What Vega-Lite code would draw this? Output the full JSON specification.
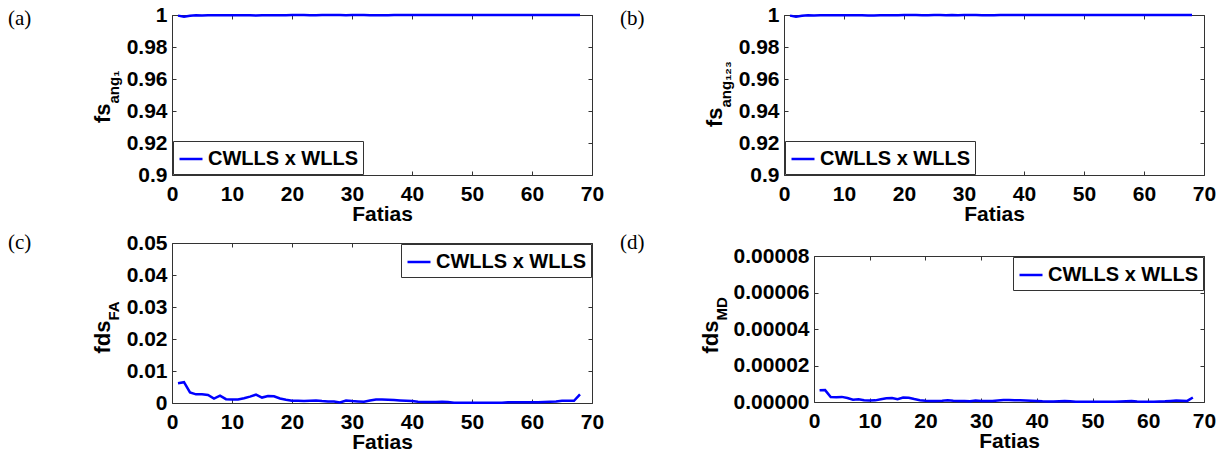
{
  "$schema": "https://vega.github.io/schema/vega-lite/v6.json",
  "background": "white",
  "padding": {"left": 8, "top": 4, "right": 0, "bottom": 0},
  "autosize": {"type": "pad"},
  "config": {
    "font": "Liberation Sans",
    "view": {"stroke": null},
    "axis": {
      "labelFont": "Liberation Sans",
      "labelFontSize": 21,
      "labelFontWeight": "bold",
      "labelColor": "#000",
      "titleFont": "Liberation Sans",
      "titleFontSize": 21,
      "titleFontWeight": "bold",
      "titleColor": "#000",
      "domainColor": "#333",
      "domainWidth": 1,
      "tickColor": "#333",
      "tickSize": -4,
      "grid": false,
      "labelFlush": false,
      "labelOverlap": false
    },
    "legend": {
      "title": null,
      "labelFont": "Liberation Sans",
      "labelFontSize": 20,
      "labelFontWeight": "bold",
      "labelColor": "#000",
      "symbolType": "stroke",
      "symbolSize": 529,
      "symbolStrokeWidth": 3,
      "labelOffset": 4,
      "padding": 5,
      "strokeColor": "#333",
      "fillColor": "white",
      "offset": 1
    },
    "title": {
      "font": "Liberation Serif",
      "fontSize": 21,
      "fontWeight": "normal",
      "color": "#000",
      "anchor": "start",
      "frame": "group",
      "baseline": "top"
    },
    "line": {"strokeWidth": 2.5, "color": "#0000ff"}
  },
  "datasets": {
    "fsang1": [
      {"fatia": 1, "valor": 0.9996, "serie": "CWLLS x WLLS"}, {"fatia": 2, "valor": 0.9989, "serie": "CWLLS x WLLS"}, {"fatia": 3, "valor": 0.9995, "serie": "CWLLS x WLLS"}, {"fatia": 4, "valor": 0.9998, "serie": "CWLLS x WLLS"},
      {"fatia": 5, "valor": 0.9997, "serie": "CWLLS x WLLS"}, {"fatia": 6, "valor": 0.9998, "serie": "CWLLS x WLLS"}, {"fatia": 7, "valor": 0.9999, "serie": "CWLLS x WLLS"}, {"fatia": 8, "valor": 0.9998, "serie": "CWLLS x WLLS"},
      {"fatia": 9, "valor": 0.9999, "serie": "CWLLS x WLLS"}, {"fatia": 10, "valor": 0.9999, "serie": "CWLLS x WLLS"}, {"fatia": 11, "valor": 0.9999, "serie": "CWLLS x WLLS"}, {"fatia": 12, "valor": 0.9999, "serie": "CWLLS x WLLS"},
      {"fatia": 13, "valor": 0.9998, "serie": "CWLLS x WLLS"}, {"fatia": 14, "valor": 0.9997, "serie": "CWLLS x WLLS"}, {"fatia": 15, "valor": 0.9998, "serie": "CWLLS x WLLS"}, {"fatia": 16, "valor": 0.9998, "serie": "CWLLS x WLLS"},
      {"fatia": 17, "valor": 0.9998, "serie": "CWLLS x WLLS"}, {"fatia": 18, "valor": 0.9999, "serie": "CWLLS x WLLS"}, {"fatia": 19, "valor": 0.9999, "serie": "CWLLS x WLLS"}, {"fatia": 20, "valor": 1.0, "serie": "CWLLS x WLLS"},
      {"fatia": 21, "valor": 1.0, "serie": "CWLLS x WLLS"}, {"fatia": 22, "valor": 1.0, "serie": "CWLLS x WLLS"}, {"fatia": 23, "valor": 0.9999, "serie": "CWLLS x WLLS"}, {"fatia": 24, "valor": 0.9999, "serie": "CWLLS x WLLS"},
      {"fatia": 25, "valor": 1.0, "serie": "CWLLS x WLLS"}, {"fatia": 26, "valor": 1.0, "serie": "CWLLS x WLLS"}, {"fatia": 27, "valor": 1.0, "serie": "CWLLS x WLLS"}, {"fatia": 28, "valor": 1.0, "serie": "CWLLS x WLLS"},
      {"fatia": 29, "valor": 0.9999, "serie": "CWLLS x WLLS"}, {"fatia": 30, "valor": 1.0, "serie": "CWLLS x WLLS"}, {"fatia": 31, "valor": 1.0, "serie": "CWLLS x WLLS"}, {"fatia": 32, "valor": 1.0, "serie": "CWLLS x WLLS"},
      {"fatia": 33, "valor": 0.9999, "serie": "CWLLS x WLLS"}, {"fatia": 34, "valor": 0.9999, "serie": "CWLLS x WLLS"}, {"fatia": 35, "valor": 0.9999, "serie": "CWLLS x WLLS"}, {"fatia": 36, "valor": 0.9999, "serie": "CWLLS x WLLS"},
      {"fatia": 37, "valor": 1.0, "serie": "CWLLS x WLLS"}, {"fatia": 38, "valor": 1.0, "serie": "CWLLS x WLLS"}, {"fatia": 39, "valor": 1.0, "serie": "CWLLS x WLLS"}, {"fatia": 40, "valor": 1.0, "serie": "CWLLS x WLLS"},
      {"fatia": 41, "valor": 1.0, "serie": "CWLLS x WLLS"}, {"fatia": 42, "valor": 1.0, "serie": "CWLLS x WLLS"}, {"fatia": 43, "valor": 1.0, "serie": "CWLLS x WLLS"}, {"fatia": 44, "valor": 1.0, "serie": "CWLLS x WLLS"},
      {"fatia": 45, "valor": 1.0, "serie": "CWLLS x WLLS"}, {"fatia": 46, "valor": 1.0, "serie": "CWLLS x WLLS"}, {"fatia": 47, "valor": 1.0, "serie": "CWLLS x WLLS"}, {"fatia": 48, "valor": 1.0, "serie": "CWLLS x WLLS"},
      {"fatia": 49, "valor": 1.0, "serie": "CWLLS x WLLS"}, {"fatia": 50, "valor": 1.0, "serie": "CWLLS x WLLS"}, {"fatia": 51, "valor": 1.0, "serie": "CWLLS x WLLS"}, {"fatia": 52, "valor": 1.0, "serie": "CWLLS x WLLS"},
      {"fatia": 53, "valor": 1.0, "serie": "CWLLS x WLLS"}, {"fatia": 54, "valor": 1.0, "serie": "CWLLS x WLLS"}, {"fatia": 55, "valor": 1.0, "serie": "CWLLS x WLLS"}, {"fatia": 56, "valor": 1.0, "serie": "CWLLS x WLLS"},
      {"fatia": 57, "valor": 1.0, "serie": "CWLLS x WLLS"}, {"fatia": 58, "valor": 1.0, "serie": "CWLLS x WLLS"}, {"fatia": 59, "valor": 1.0, "serie": "CWLLS x WLLS"}, {"fatia": 60, "valor": 1.0, "serie": "CWLLS x WLLS"},
      {"fatia": 61, "valor": 1.0, "serie": "CWLLS x WLLS"}, {"fatia": 62, "valor": 1.0, "serie": "CWLLS x WLLS"}, {"fatia": 63, "valor": 1.0, "serie": "CWLLS x WLLS"}, {"fatia": 64, "valor": 1.0, "serie": "CWLLS x WLLS"},
      {"fatia": 65, "valor": 1.0, "serie": "CWLLS x WLLS"}, {"fatia": 66, "valor": 1.0, "serie": "CWLLS x WLLS"}, {"fatia": 67, "valor": 1.0, "serie": "CWLLS x WLLS"}, {"fatia": 68, "valor": 1.0, "serie": "CWLLS x WLLS"}
    ],
    "fsang123": [
      {"fatia": 1, "valor": 0.9996, "serie": "CWLLS x WLLS"}, {"fatia": 2, "valor": 0.9989, "serie": "CWLLS x WLLS"}, {"fatia": 3, "valor": 0.9995, "serie": "CWLLS x WLLS"}, {"fatia": 4, "valor": 0.9998, "serie": "CWLLS x WLLS"},
      {"fatia": 5, "valor": 0.9997, "serie": "CWLLS x WLLS"}, {"fatia": 6, "valor": 0.9998, "serie": "CWLLS x WLLS"}, {"fatia": 7, "valor": 0.9999, "serie": "CWLLS x WLLS"}, {"fatia": 8, "valor": 0.9998, "serie": "CWLLS x WLLS"},
      {"fatia": 9, "valor": 0.9999, "serie": "CWLLS x WLLS"}, {"fatia": 10, "valor": 0.9999, "serie": "CWLLS x WLLS"}, {"fatia": 11, "valor": 0.9999, "serie": "CWLLS x WLLS"}, {"fatia": 12, "valor": 0.9999, "serie": "CWLLS x WLLS"},
      {"fatia": 13, "valor": 0.9998, "serie": "CWLLS x WLLS"}, {"fatia": 14, "valor": 0.9997, "serie": "CWLLS x WLLS"}, {"fatia": 15, "valor": 0.9997, "serie": "CWLLS x WLLS"}, {"fatia": 16, "valor": 0.9998, "serie": "CWLLS x WLLS"},
      {"fatia": 17, "valor": 0.9998, "serie": "CWLLS x WLLS"}, {"fatia": 18, "valor": 0.9999, "serie": "CWLLS x WLLS"}, {"fatia": 19, "valor": 0.9999, "serie": "CWLLS x WLLS"}, {"fatia": 20, "valor": 1.0, "serie": "CWLLS x WLLS"},
      {"fatia": 21, "valor": 1.0, "serie": "CWLLS x WLLS"}, {"fatia": 22, "valor": 1.0, "serie": "CWLLS x WLLS"}, {"fatia": 23, "valor": 0.9999, "serie": "CWLLS x WLLS"}, {"fatia": 24, "valor": 0.9999, "serie": "CWLLS x WLLS"},
      {"fatia": 25, "valor": 1.0, "serie": "CWLLS x WLLS"}, {"fatia": 26, "valor": 1.0, "serie": "CWLLS x WLLS"}, {"fatia": 27, "valor": 0.9999, "serie": "CWLLS x WLLS"}, {"fatia": 28, "valor": 1.0, "serie": "CWLLS x WLLS"},
      {"fatia": 29, "valor": 0.9999, "serie": "CWLLS x WLLS"}, {"fatia": 30, "valor": 1.0, "serie": "CWLLS x WLLS"}, {"fatia": 31, "valor": 1.0, "serie": "CWLLS x WLLS"}, {"fatia": 32, "valor": 1.0, "serie": "CWLLS x WLLS"},
      {"fatia": 33, "valor": 0.9999, "serie": "CWLLS x WLLS"}, {"fatia": 34, "valor": 0.9999, "serie": "CWLLS x WLLS"}, {"fatia": 35, "valor": 0.9999, "serie": "CWLLS x WLLS"}, {"fatia": 36, "valor": 1.0, "serie": "CWLLS x WLLS"},
      {"fatia": 37, "valor": 1.0, "serie": "CWLLS x WLLS"}, {"fatia": 38, "valor": 1.0, "serie": "CWLLS x WLLS"}, {"fatia": 39, "valor": 1.0, "serie": "CWLLS x WLLS"}, {"fatia": 40, "valor": 1.0, "serie": "CWLLS x WLLS"},
      {"fatia": 41, "valor": 1.0, "serie": "CWLLS x WLLS"}, {"fatia": 42, "valor": 1.0, "serie": "CWLLS x WLLS"}, {"fatia": 43, "valor": 1.0, "serie": "CWLLS x WLLS"}, {"fatia": 44, "valor": 1.0, "serie": "CWLLS x WLLS"},
      {"fatia": 45, "valor": 1.0, "serie": "CWLLS x WLLS"}, {"fatia": 46, "valor": 1.0, "serie": "CWLLS x WLLS"}, {"fatia": 47, "valor": 1.0, "serie": "CWLLS x WLLS"}, {"fatia": 48, "valor": 1.0, "serie": "CWLLS x WLLS"},
      {"fatia": 49, "valor": 1.0, "serie": "CWLLS x WLLS"}, {"fatia": 50, "valor": 1.0, "serie": "CWLLS x WLLS"}, {"fatia": 51, "valor": 1.0, "serie": "CWLLS x WLLS"}, {"fatia": 52, "valor": 1.0, "serie": "CWLLS x WLLS"},
      {"fatia": 53, "valor": 1.0, "serie": "CWLLS x WLLS"}, {"fatia": 54, "valor": 1.0, "serie": "CWLLS x WLLS"}, {"fatia": 55, "valor": 1.0, "serie": "CWLLS x WLLS"}, {"fatia": 56, "valor": 1.0, "serie": "CWLLS x WLLS"},
      {"fatia": 57, "valor": 1.0, "serie": "CWLLS x WLLS"}, {"fatia": 58, "valor": 1.0, "serie": "CWLLS x WLLS"}, {"fatia": 59, "valor": 1.0, "serie": "CWLLS x WLLS"}, {"fatia": 60, "valor": 1.0, "serie": "CWLLS x WLLS"},
      {"fatia": 61, "valor": 1.0, "serie": "CWLLS x WLLS"}, {"fatia": 62, "valor": 1.0, "serie": "CWLLS x WLLS"}, {"fatia": 63, "valor": 1.0, "serie": "CWLLS x WLLS"}, {"fatia": 64, "valor": 1.0, "serie": "CWLLS x WLLS"},
      {"fatia": 65, "valor": 1.0, "serie": "CWLLS x WLLS"}, {"fatia": 66, "valor": 1.0, "serie": "CWLLS x WLLS"}, {"fatia": 67, "valor": 1.0, "serie": "CWLLS x WLLS"}, {"fatia": 68, "valor": 1.0, "serie": "CWLLS x WLLS"}
    ],
    "fdsFA": [
      {"fatia": 1, "valor": 0.0062, "serie": "CWLLS x WLLS"}, {"fatia": 2, "valor": 0.0065, "serie": "CWLLS x WLLS"}, {"fatia": 3, "valor": 0.0033, "serie": "CWLLS x WLLS"}, {"fatia": 4, "valor": 0.0027, "serie": "CWLLS x WLLS"},
      {"fatia": 5, "valor": 0.0027, "serie": "CWLLS x WLLS"}, {"fatia": 6, "valor": 0.0025, "serie": "CWLLS x WLLS"}, {"fatia": 7, "valor": 0.0014, "serie": "CWLLS x WLLS"}, {"fatia": 8, "valor": 0.0023, "serie": "CWLLS x WLLS"},
      {"fatia": 9, "valor": 0.0012, "serie": "CWLLS x WLLS"}, {"fatia": 10, "valor": 0.0011, "serie": "CWLLS x WLLS"}, {"fatia": 11, "valor": 0.0011, "serie": "CWLLS x WLLS"}, {"fatia": 12, "valor": 0.0015, "serie": "CWLLS x WLLS"},
      {"fatia": 13, "valor": 0.002, "serie": "CWLLS x WLLS"}, {"fatia": 14, "valor": 0.0026, "serie": "CWLLS x WLLS"}, {"fatia": 15, "valor": 0.0017, "serie": "CWLLS x WLLS"}, {"fatia": 16, "valor": 0.0022, "serie": "CWLLS x WLLS"},
      {"fatia": 17, "valor": 0.0021, "serie": "CWLLS x WLLS"}, {"fatia": 18, "valor": 0.0014, "serie": "CWLLS x WLLS"}, {"fatia": 19, "valor": 0.001, "serie": "CWLLS x WLLS"}, {"fatia": 20, "valor": 0.0007, "serie": "CWLLS x WLLS"},
      {"fatia": 21, "valor": 0.0007, "serie": "CWLLS x WLLS"}, {"fatia": 22, "valor": 0.0006, "serie": "CWLLS x WLLS"}, {"fatia": 23, "valor": 0.0007, "serie": "CWLLS x WLLS"}, {"fatia": 24, "valor": 0.0008, "serie": "CWLLS x WLLS"},
      {"fatia": 25, "valor": 0.0006, "serie": "CWLLS x WLLS"}, {"fatia": 26, "valor": 0.0005, "serie": "CWLLS x WLLS"}, {"fatia": 27, "valor": 0.0005, "serie": "CWLLS x WLLS"}, {"fatia": 28, "valor": 0.0002, "serie": "CWLLS x WLLS"},
      {"fatia": 29, "valor": 0.0008, "serie": "CWLLS x WLLS"}, {"fatia": 30, "valor": 0.0006, "serie": "CWLLS x WLLS"}, {"fatia": 31, "valor": 0.0005, "serie": "CWLLS x WLLS"}, {"fatia": 32, "valor": 0.0004, "serie": "CWLLS x WLLS"},
      {"fatia": 33, "valor": 0.0008, "serie": "CWLLS x WLLS"}, {"fatia": 34, "valor": 0.0011, "serie": "CWLLS x WLLS"}, {"fatia": 35, "valor": 0.0011, "serie": "CWLLS x WLLS"}, {"fatia": 36, "valor": 0.001, "serie": "CWLLS x WLLS"},
      {"fatia": 37, "valor": 0.0009, "serie": "CWLLS x WLLS"}, {"fatia": 38, "valor": 0.0008, "serie": "CWLLS x WLLS"}, {"fatia": 39, "valor": 0.0007, "serie": "CWLLS x WLLS"}, {"fatia": 40, "valor": 0.0006, "serie": "CWLLS x WLLS"},
      {"fatia": 41, "valor": 0.0004, "serie": "CWLLS x WLLS"}, {"fatia": 42, "valor": 0.0003, "serie": "CWLLS x WLLS"}, {"fatia": 43, "valor": 0.0003, "serie": "CWLLS x WLLS"}, {"fatia": 44, "valor": 0.0003, "serie": "CWLLS x WLLS"},
      {"fatia": 45, "valor": 0.0004, "serie": "CWLLS x WLLS"}, {"fatia": 46, "valor": 0.0003, "serie": "CWLLS x WLLS"}, {"fatia": 47, "valor": 0.0001, "serie": "CWLLS x WLLS"}, {"fatia": 48, "valor": 0.0001, "serie": "CWLLS x WLLS"},
      {"fatia": 49, "valor": 0.0001, "serie": "CWLLS x WLLS"}, {"fatia": 50, "valor": 0.0001, "serie": "CWLLS x WLLS"}, {"fatia": 51, "valor": 0.0001, "serie": "CWLLS x WLLS"}, {"fatia": 52, "valor": 0.0001, "serie": "CWLLS x WLLS"},
      {"fatia": 53, "valor": 0.0001, "serie": "CWLLS x WLLS"}, {"fatia": 54, "valor": 0.0001, "serie": "CWLLS x WLLS"}, {"fatia": 55, "valor": 0.0001, "serie": "CWLLS x WLLS"}, {"fatia": 56, "valor": 0.0002, "serie": "CWLLS x WLLS"},
      {"fatia": 57, "valor": 0.0002, "serie": "CWLLS x WLLS"}, {"fatia": 58, "valor": 0.0002, "serie": "CWLLS x WLLS"}, {"fatia": 59, "valor": 0.0002, "serie": "CWLLS x WLLS"}, {"fatia": 60, "valor": 0.0002, "serie": "CWLLS x WLLS"},
      {"fatia": 61, "valor": 0.0002, "serie": "CWLLS x WLLS"}, {"fatia": 62, "valor": 0.0003, "serie": "CWLLS x WLLS"}, {"fatia": 63, "valor": 0.0004, "serie": "CWLLS x WLLS"}, {"fatia": 64, "valor": 0.0005, "serie": "CWLLS x WLLS"},
      {"fatia": 65, "valor": 0.0007, "serie": "CWLLS x WLLS"}, {"fatia": 66, "valor": 0.0007, "serie": "CWLLS x WLLS"}, {"fatia": 67, "valor": 0.0007, "serie": "CWLLS x WLLS"}, {"fatia": 68, "valor": 0.0027, "serie": "CWLLS x WLLS"}
    ],
    "fdsMD": [
      {"fatia": 1, "valor": 0.0000064, "serie": "CWLLS x WLLS"}, {"fatia": 2, "valor": 0.0000065, "serie": "CWLLS x WLLS"}, {"fatia": 3, "valor": 0.0000027, "serie": "CWLLS x WLLS"}, {"fatia": 4, "valor": 0.0000026, "serie": "CWLLS x WLLS"},
      {"fatia": 5, "valor": 0.0000028, "serie": "CWLLS x WLLS"}, {"fatia": 6, "valor": 0.0000022, "serie": "CWLLS x WLLS"}, {"fatia": 7, "valor": 0.0000013, "serie": "CWLLS x WLLS"}, {"fatia": 8, "valor": 0.0000015, "serie": "CWLLS x WLLS"},
      {"fatia": 9, "valor": 0.000001, "serie": "CWLLS x WLLS"}, {"fatia": 10, "valor": 0.0000008, "serie": "CWLLS x WLLS"}, {"fatia": 11, "valor": 0.0000009, "serie": "CWLLS x WLLS"}, {"fatia": 12, "valor": 0.0000015, "serie": "CWLLS x WLLS"},
      {"fatia": 13, "valor": 0.000002, "serie": "CWLLS x WLLS"}, {"fatia": 14, "valor": 0.0000022, "serie": "CWLLS x WLLS"}, {"fatia": 15, "valor": 0.0000015, "serie": "CWLLS x WLLS"}, {"fatia": 16, "valor": 0.0000024, "serie": "CWLLS x WLLS"},
      {"fatia": 17, "valor": 0.0000023, "serie": "CWLLS x WLLS"}, {"fatia": 18, "valor": 0.0000016, "serie": "CWLLS x WLLS"}, {"fatia": 19, "valor": 0.000001, "serie": "CWLLS x WLLS"}, {"fatia": 20, "valor": 0.0000007, "serie": "CWLLS x WLLS"},
      {"fatia": 21, "valor": 0.0000006, "serie": "CWLLS x WLLS"}, {"fatia": 22, "valor": 0.0000006, "serie": "CWLLS x WLLS"}, {"fatia": 23, "valor": 0.0000007, "serie": "CWLLS x WLLS"}, {"fatia": 24, "valor": 0.0000009, "serie": "CWLLS x WLLS"},
      {"fatia": 25, "valor": 0.0000007, "serie": "CWLLS x WLLS"}, {"fatia": 26, "valor": 0.0000006, "serie": "CWLLS x WLLS"}, {"fatia": 27, "valor": 0.0000006, "serie": "CWLLS x WLLS"}, {"fatia": 28, "valor": 0.0000004, "serie": "CWLLS x WLLS"},
      {"fatia": 29, "valor": 0.0000008, "serie": "CWLLS x WLLS"}, {"fatia": 30, "valor": 0.0000006, "serie": "CWLLS x WLLS"}, {"fatia": 31, "valor": 0.0000006, "serie": "CWLLS x WLLS"}, {"fatia": 32, "valor": 0.0000005, "serie": "CWLLS x WLLS"},
      {"fatia": 33, "valor": 0.0000008, "serie": "CWLLS x WLLS"}, {"fatia": 34, "valor": 0.0000011, "serie": "CWLLS x WLLS"}, {"fatia": 35, "valor": 0.0000011, "serie": "CWLLS x WLLS"}, {"fatia": 36, "valor": 0.000001, "serie": "CWLLS x WLLS"},
      {"fatia": 37, "valor": 0.0000009, "serie": "CWLLS x WLLS"}, {"fatia": 38, "valor": 0.0000008, "serie": "CWLLS x WLLS"}, {"fatia": 39, "valor": 0.0000007, "serie": "CWLLS x WLLS"}, {"fatia": 40, "valor": 0.0000006, "serie": "CWLLS x WLLS"},
      {"fatia": 41, "valor": 0.0000004, "serie": "CWLLS x WLLS"}, {"fatia": 42, "valor": 0.0000003, "serie": "CWLLS x WLLS"}, {"fatia": 43, "valor": 0.0000003, "serie": "CWLLS x WLLS"}, {"fatia": 44, "valor": 0.0000004, "serie": "CWLLS x WLLS"},
      {"fatia": 45, "valor": 0.0000005, "serie": "CWLLS x WLLS"}, {"fatia": 46, "valor": 0.0000004, "serie": "CWLLS x WLLS"}, {"fatia": 47, "valor": 0.0000002, "serie": "CWLLS x WLLS"}, {"fatia": 48, "valor": 0.0000001, "serie": "CWLLS x WLLS"},
      {"fatia": 49, "valor": 0.0000001, "serie": "CWLLS x WLLS"}, {"fatia": 50, "valor": 0.0000001, "serie": "CWLLS x WLLS"}, {"fatia": 51, "valor": 0.0000001, "serie": "CWLLS x WLLS"}, {"fatia": 52, "valor": 0.0000001, "serie": "CWLLS x WLLS"},
      {"fatia": 53, "valor": 0.0000001, "serie": "CWLLS x WLLS"}, {"fatia": 54, "valor": 0.0000002, "serie": "CWLLS x WLLS"}, {"fatia": 55, "valor": 0.0000003, "serie": "CWLLS x WLLS"}, {"fatia": 56, "valor": 0.0000004, "serie": "CWLLS x WLLS"},
      {"fatia": 57, "valor": 0.0000005, "serie": "CWLLS x WLLS"}, {"fatia": 58, "valor": 0.0000003, "serie": "CWLLS x WLLS"}, {"fatia": 59, "valor": 0.0000002, "serie": "CWLLS x WLLS"}, {"fatia": 60, "valor": 0.0000002, "serie": "CWLLS x WLLS"},
      {"fatia": 61, "valor": 0.0000002, "serie": "CWLLS x WLLS"}, {"fatia": 62, "valor": 0.0000003, "serie": "CWLLS x WLLS"}, {"fatia": 63, "valor": 0.0000004, "serie": "CWLLS x WLLS"}, {"fatia": 64, "valor": 0.0000006, "serie": "CWLLS x WLLS"},
      {"fatia": 65, "valor": 0.0000008, "serie": "CWLLS x WLLS"}, {"fatia": 66, "valor": 0.0000007, "serie": "CWLLS x WLLS"}, {"fatia": 67, "valor": 0.0000006, "serie": "CWLLS x WLLS"}, {"fatia": 68, "valor": 0.0000025, "serie": "CWLLS x WLLS"}
    ]
  },
  "columns": 2,
  "align": "none",
  "bounds": "full",
  "spacing": {"row": 8, "column": 16},
  "resolve": {"scale": {"color": "independent"}, "legend": {"color": "independent"}},
  "concat": [
    {
      "title": {"text": "(a)", "dx": -164, "offset": -25},
      "width": 420,
      "height": 160,
      "data": {"name": "fsang1"},
      "resolve": {"axis": {"x": "independent", "y": "independent"}},
      "layer": [
        {
          "mark": {"type": "line", "strokeWidth": 2.5},
          "encoding": {
            "x": {"field": "fatia", "type": "quantitative", "scale": {"domain": [0, 70]},
                  "axis": {"orient": "bottom", "values": [0, 10, 20, 30, 40, 50, 60, 70], "title": "Fatias", "labelPadding": 12, "titlePadding": -1}},
            "y": {"field": "valor", "type": "quantitative", "scale": {"domain": [0.9, 1], "zero": false},
                  "axis": {"orient": "left", "values": [0.9, 0.92, 0.94, 0.96, 0.98, 1], "labelExpr": "format(datum.value, '~g')", "labelPadding": 9,
                           "title": "fs", "titleAngle": 270, "titleAlign": "right", "titleBaseline": "bottom", "titleX": -58, "titleY": 88, "titleFontSize": 22}},
            "color": {"field": "serie", "type": "nominal", "scale": {"range": ["#0000ff"]},
                      "legend": {"orient": "bottom-left"}}
          }
        },
        {
          "mark": {"type": "line", "strokeOpacity": 0},
          "encoding": {
            "x": {"field": "fatia", "type": "quantitative",
                  "axis": {"orient": "top", "values": [0, 10, 20, 30, 40, 50, 60, 70], "labels": false, "title": null}},
            "y": {"field": "valor", "type": "quantitative",
                  "axis": {"orient": "right", "values": [0.9, 0.92, 0.94, 0.96, 0.98, 1], "labels": false,
                           "title": "ang₁", "titleAngle": 270, "titleAlign": "left", "titleBaseline": "bottom", "titleX": -471, "titleY": 88, "titleFontSize": 15}}
          }
        }
      ]
    },
    {
      "title": {"text": "(b)", "dx": -164, "offset": -25},
      "width": 420,
      "height": 160,
      "data": {"name": "fsang123"},
      "resolve": {"axis": {"x": "independent", "y": "independent"}},
      "layer": [
        {
          "mark": {"type": "line", "strokeWidth": 2.5},
          "encoding": {
            "x": {"field": "fatia", "type": "quantitative", "scale": {"domain": [0, 70]},
                  "axis": {"orient": "bottom", "values": [0, 10, 20, 30, 40, 50, 60, 70], "title": "Fatias", "labelPadding": 12, "titlePadding": -1}},
            "y": {"field": "valor", "type": "quantitative", "scale": {"domain": [0.9, 1], "zero": false},
                  "axis": {"orient": "left", "values": [0.9, 0.92, 0.94, 0.96, 0.98, 1], "labelExpr": "format(datum.value, '~g')", "labelPadding": 9,
                           "title": "fs", "titleAngle": 270, "titleAlign": "right", "titleBaseline": "bottom", "titleX": -58, "titleY": 92, "titleFontSize": 22}},
            "color": {"field": "serie", "type": "nominal", "scale": {"range": ["#0000ff"]},
                      "legend": {"orient": "bottom-left"}}
          }
        },
        {
          "mark": {"type": "line", "strokeOpacity": 0},
          "encoding": {
            "x": {"field": "fatia", "type": "quantitative",
                  "axis": {"orient": "top", "values": [0, 10, 20, 30, 40, 50, 60, 70], "labels": false, "title": null}},
            "y": {"field": "valor", "type": "quantitative",
                  "axis": {"orient": "right", "values": [0.9, 0.92, 0.94, 0.96, 0.98, 1], "labels": false,
                           "title": "ang₁₂₃", "titleAngle": 270, "titleAlign": "left", "titleBaseline": "bottom", "titleX": -471, "titleY": 92, "titleFontSize": 15}}
          }
        }
      ]
    },
    {
      "title": {"text": "(c)", "dx": -164, "offset": -21},
      "width": 420,
      "height": 160,
      "data": {"name": "fdsFA"},
      "resolve": {"axis": {"x": "independent", "y": "independent"}},
      "layer": [
        {
          "mark": {"type": "line", "strokeWidth": 2.5},
          "encoding": {
            "x": {"field": "fatia", "type": "quantitative", "scale": {"domain": [0, 70]},
                  "axis": {"orient": "bottom", "values": [0, 10, 20, 30, 40, 50, 60, 70], "title": "Fatias", "labelPadding": 12, "titlePadding": -1}},
            "y": {"field": "valor", "type": "quantitative", "scale": {"domain": [0, 0.05]},
                  "axis": {"orient": "left", "values": [0, 0.01, 0.02, 0.03, 0.04, 0.05], "labelExpr": "format(datum.value, '~g')", "labelPadding": 9,
                           "title": "fds", "titleAngle": 270, "titleAlign": "right", "titleBaseline": "bottom", "titleX": -58, "titleY": 77, "titleFontSize": 22}},
            "color": {"field": "serie", "type": "nominal", "scale": {"range": ["#0000ff"]},
                      "legend": {"orient": "top-right"}}
          }
        },
        {
          "mark": {"type": "line", "strokeOpacity": 0},
          "encoding": {
            "x": {"field": "fatia", "type": "quantitative",
                  "axis": {"orient": "top", "values": [0, 10, 20, 30, 40, 50, 60, 70], "labels": false, "title": null}},
            "y": {"field": "valor", "type": "quantitative",
                  "axis": {"orient": "right", "values": [0, 0.01, 0.02, 0.03, 0.04, 0.05], "labels": false,
                           "title": "FA", "titleAngle": 270, "titleAlign": "left", "titleBaseline": "bottom", "titleX": -471, "titleY": 77, "titleFontSize": 15}}
          }
        }
      ]
    },
    {
      "title": {"text": "(d)", "dx": -194, "offset": -8},
      "width": 390,
      "height": 146,
      "data": {"name": "fdsMD"},
      "resolve": {"axis": {"x": "independent", "y": "independent"}},
      "layer": [
        {
          "mark": {"type": "line", "strokeWidth": 2.5},
          "encoding": {
            "x": {"field": "fatia", "type": "quantitative", "scale": {"domain": [0, 70]},
                  "axis": {"orient": "bottom", "values": [0, 10, 20, 30, 40, 50, 60, 70], "title": "Fatias", "labelPadding": 12, "titlePadding": -1}},
            "y": {"field": "valor", "type": "quantitative", "scale": {"domain": [0, 0.00008]},
                  "axis": {"orient": "left", "values": [0, 0.00002, 0.00004, 0.00006, 0.00008], "labelExpr": "format(datum.value, '.5f')", "labelPadding": 9,
                           "title": "fds", "titleAngle": 270, "titleAlign": "right", "titleBaseline": "bottom", "titleX": -92, "titleY": 64, "titleFontSize": 22}},
            "color": {"field": "serie", "type": "nominal", "scale": {"range": ["#0000ff"]},
                      "legend": {"orient": "top-right"}}
          }
        },
        {
          "mark": {"type": "line", "strokeOpacity": 0},
          "encoding": {
            "x": {"field": "fatia", "type": "quantitative",
                  "axis": {"orient": "top", "values": [0, 10, 20, 30, 40, 50, 60, 70], "labels": false, "title": null}},
            "y": {"field": "valor", "type": "quantitative",
                  "axis": {"orient": "right", "values": [0, 0.00002, 0.00004, 0.00006, 0.00008], "labels": false,
                           "title": "MD", "titleAngle": 270, "titleAlign": "left", "titleBaseline": "bottom", "titleX": -475, "titleY": 64, "titleFontSize": 15}}
          }
        }
      ]
    }
  ]
}
